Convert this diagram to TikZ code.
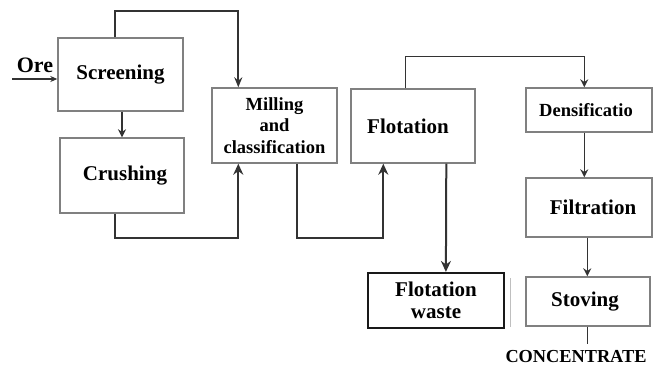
\documentclass[tikz,border=0pt]{standalone}
\usepackage{fontspec}
\setmainfont{Liberation Serif}
\usetikzlibrary{arrows.meta,calc}
\tikzset{
  box/.style={draw=black!50, line width=1.4pt, fill=white, minimum width=#1, inner sep=0pt, align=center, font=\bfseries\fontsize{21}{24}\selectfont},
  flow/.style={draw=black!80, line width=2pt},
  arr/.style={flow, -{Stealth[length=11pt,width=10pt]}},
  small/.style={font=\bfseries\fontsize{18.5}{21.5}\selectfont}
}
\begin{document}
\begin{tikzpicture}[x=1pt,y=-1pt]
\useasboundingbox[fill=white] (0,0) rectangle (659,367);
% boxes
\node[box=125pt, minimum height=73pt] (scr) at (120.5,74.5) {Screening};
\node[box=124pt, minimum height=75pt] (cru) at (122,175.5) {\hspace*{6pt}Crushing};
\node[box=125pt, minimum height=75pt, small] (mil) at (274.5,125.5) {Milling\\and\\classification};
\node[box=124pt, minimum height=74pt] (flo) at (413,126) {Flotation\hspace*{10pt}};
\node[box=126pt, minimum height=44pt, small] (den) at (589,110) {Densificatio\hspace*{6pt}};
\node[box=126pt, minimum height=59pt] (fil) at (589,207.5) {\hspace*{8pt}Filtration};
\node[box=124pt, minimum height=49pt] (sto) at (588,301.5) {Stoving\hspace*{6pt}};
\draw[black!25, line width=0.8pt] (510,278) -- (510,327);
\node[box=136pt, minimum height=55pt, draw=black!90, line width=2.2pt, font=\bfseries\fontsize{21}{22}\selectfont] (wst) at (436,300.5) {Flotation\\waste};
% labels
\node[font=\bfseries\fontsize{22}{24}\selectfont, inner sep=0pt] (ore) at (35,65) {Ore};
\node[font=\bfseries\fontsize{18.3}{20}\selectfont, inner sep=0pt] (con) at (576,357) {CONCENTRATE};
\coordinate (orestart) at (12,79);
% connectors
\draw[arr, line width=1.5pt, -{Stealth[length=7pt,width=6pt]}] (orestart) -- (orestart -| scr.west);
\draw[arr, line width=1.5pt, -{Stealth[length=8pt,width=8pt]}] ([xshift=1.5pt]scr.south) -- ([xshift=0pt]cru.north);
\draw[arr, -{Stealth[length=10pt,width=8pt]}] ([xshift=58pt]scr.north west) -- ++(0,-26) -| ([xshift=27pt]mil.north west);
\draw[arr] ([xshift=56pt]cru.south west) -- ++(0,24) -| ([xshift=27pt]mil.south west);
\draw[arr] ([xshift=86pt]mil.south west) -- ++(0,74) -| ([xshift=33pt]flo.south west);
\draw[arr, line width=1.6pt, -{Stealth[length=8pt,width=8pt]}] ([xshift=55pt]flo.north west) -- ++(0,-32) -| ([xshift=59pt]den.north west);
\draw[arr] ([xshift=96pt]flo.south west) -- ([xshift=79pt]wst.north west);
\draw[arr, line width=1.6pt, -{Stealth[length=8pt,width=8pt]}] ([xshift=59pt]den.south west) -- ([xshift=59pt]fil.north west);
\draw[arr, line width=1.6pt, -{Stealth[length=8pt,width=8pt]}] ([xshift=62pt]fil.south west) -- ([xshift=62pt]sto.north west);
\draw[flow, line width=1.6pt] ([xshift=62pt]sto.south west) -- ++(0,17);
\end{tikzpicture}
\end{document}
